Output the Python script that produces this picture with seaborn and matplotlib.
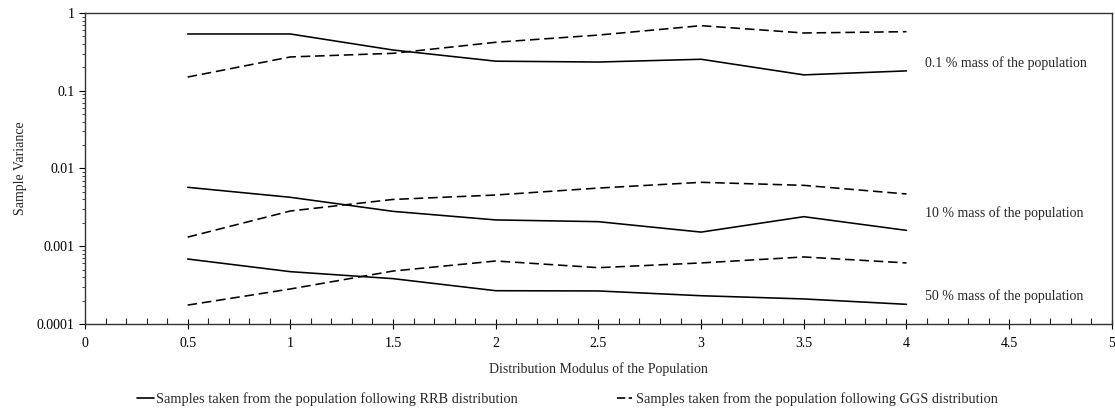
import numpy as np
import pandas as pd
import matplotlib
matplotlib.use("Agg")
import matplotlib.pyplot as plt
from matplotlib.ticker import MultipleLocator, LogLocator, FixedLocator, FixedFormatter
import seaborn as sns

# distribution modulus values
modulus = [0.5, 1.0, 1.5, 2.0, 2.5, 3.0, 3.5, 4.0]

# sample variance, RRB (solid) and GGS (dashed) for each mass fraction
rrb_01 = [0.537, 0.537, 0.334, 0.240, 0.234, 0.254, 0.160, 0.180]
ggs_01 = [0.150, 0.272, 0.303, 0.420, 0.520, 0.687, 0.553, 0.575]
rrb_10 = [0.00573, 0.00426, 0.00281, 0.00218, 0.00207, 0.00152, 0.00240, 0.00160]
ggs_10 = [0.00131, 0.00284, 0.00400, 0.00456, 0.00560, 0.00664, 0.00607, 0.00470]
rrb_50 = [0.000685, 0.000471, 0.000383, 0.000268, 0.000266, 0.000231, 0.000210, 0.000179]
ggs_50 = [0.000175, 0.000282, 0.000480, 0.000646, 0.000530, 0.000610, 0.000728, 0.000610]

level_labels = ["0.1 % mass of the population", "10 % mass of the population",
                "50 % mass of the population"]
label_y = [0.23, 0.0027, 0.000229]

y_ticks = [0.0001, 0.001, 0.01, 0.1, 1]
y_ticklabels = ["0.0001", "0.001", "0.01", "0.1", "1"]

legend_labels = ["Samples taken from the population following RRB distribution",
                 "Samples taken from the population following GGS distribution"]

sns.set_style("white")
plt.rcParams["font.family"] = ["Liberation Serif", "DejaVu Serif"]
plt.rcParams["font.size"] = 10

fig = plt.figure(figsize=(11.15, 4.11), dpi=100)
ax = fig.add_axes([0.0762, 0.2117, 0.921, 0.7567])

series = [(rrb_01, False), (ggs_01, True), (rrb_10, False), (ggs_10, True),
          (rrb_50, False), (ggs_50, True)]
for vals, dashed in series:
    df = pd.DataFrame({"x": modulus, "y": vals})
    sns.lineplot(data=df, x="x", y="y", ax=ax, color="black", linewidth=1.15,
                 linestyle=(0, (6, 3)) if dashed else "-")

for txt, yy in zip(level_labels, label_y):
    ax.text(4.09, yy, txt, fontsize=10, va="center", ha="left")

ax.set_yscale("log")
ax.set_xlim(0, 5)
ax.set_ylim(0.0001, 1)
ax.xaxis.set_major_locator(MultipleLocator(0.5))
ax.xaxis.set_minor_locator(MultipleLocator(0.1))
ax.xaxis.set_major_formatter(plt.FuncFormatter(lambda v, p: f"{v:g}"))
ax.yaxis.set_major_locator(FixedLocator(y_ticks))
ax.yaxis.set_major_formatter(FixedFormatter(y_ticklabels))
ax.yaxis.set_minor_locator(LogLocator(base=10, subs=np.arange(2, 10), numticks=20))
ax.yaxis.set_minor_formatter(plt.NullFormatter())

ax.tick_params(axis="x", which="major", direction="inout", length=7, width=0.8,
               colors="black", labelsize=10, pad=6)
ax.tick_params(axis="x", which="minor", direction="in", length=4, width=0.8)
ax.tick_params(axis="y", which="major", direction="out", length=4, width=0.8,
               colors="black", labelsize=10)
ax.tick_params(axis="y", which="minor", direction="out", length=2.5, width=0.6)
ax.tick_params(bottom=True, left=True, which="both")

for s in ax.spines.values():
    s.set_color("#333333")
    s.set_linewidth(1.0)

ax.set_xlabel("Distribution Modulus of the Population", fontsize=10, labelpad=9)
ax.set_ylabel("Sample Variance", fontsize=10, labelpad=7)

handles = [plt.Line2D([], [], color="black", linewidth=1.2, linestyle="-"),
           plt.Line2D([], [], color="black", linewidth=1.2, dashes=(5, 2, 2, 2))]
fig.legend(handles, legend_labels, loc="center left", bbox_to_anchor=(0.1229, 0.029),
           ncol=2, frameon=False, fontsize=10.4, handlelength=1.15,
           handletextpad=0.15, columnspacing=6.9, borderpad=0, borderaxespad=0)

fig.savefig("out.png", dpi=100)
